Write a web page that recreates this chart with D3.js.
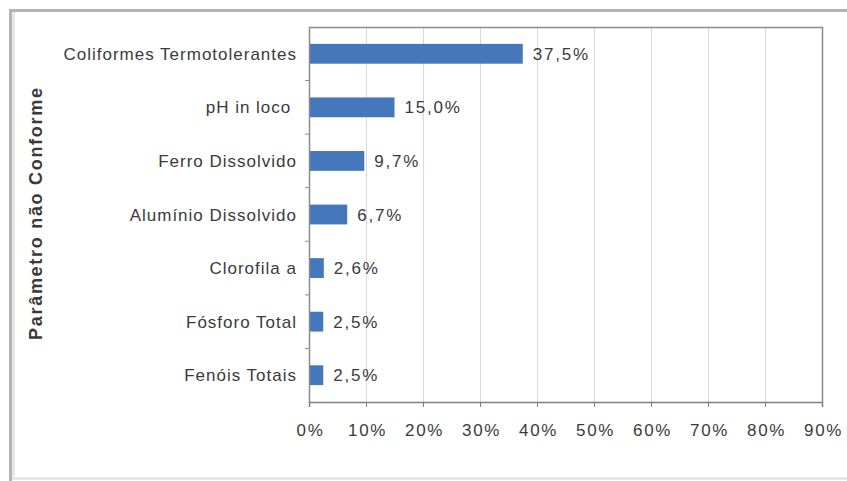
<!DOCTYPE html>
<html>
<head>
<meta charset="utf-8">
<script src="https://cdn.jsdelivr.net/npm/d3@7"></script>
<style>
  html, body { margin: 0; padding: 0; background: #ffffff; }
  svg { display: block; }
  text { font-family: "Liberation Sans", Arial, sans-serif; fill: #3a3a3a; white-space: pre; }
</style>
</head>
<body>
<svg id="chart" width="847" height="481"></svg>
<script>
// Parameters not in compliance, share of samples (%)
const categories = [
  "Coliformes Termotolerantes",
  "pH in loco ",
  "Ferro Dissolvido",
  "Alumínio Dissolvido",
  "Clorofila a",
  "Fósforo Total",
  "Fenóis Totais"
];
const values = [37.5, 15.0, 9.7, 6.7, 2.6, 2.5, 2.5];
const xTicks = [0, 10, 20, 30, 40, 50, 60, 70, 80, 90];
const yTitle = "Parâmetro não Conforme";

const svg = d3.select("#chart");
const W = 847, H = 481;
const plot = { left: 309, top: 27, right: 822, bottom: 402 };

// outer frame of the chart object
svg.append("rect")
  .attr("x", 10.5).attr("y", 10.5)
  .attr("width", W + 20).attr("height", H - 13)
  .attr("fill", "#ffffff")
  .attr("stroke", "#dcdcdc").attr("stroke-width", 2);
svg.append("path")
  .attr("d", `M10.5,${H}V10.5H${W}`)
  .attr("fill", "none")
  .attr("stroke", "#b4b4b4").attr("stroke-width", 3);
svg.append("line")
  .attr("x1", 13.5).attr("x2", 13.5).attr("y1", 12).attr("y2", H - 3)
  .attr("stroke", "#e8e8e8").attr("stroke-width", 3);

const x = d3.scaleLinear().domain([0, 90]).range([plot.left, plot.right]);
const y = d3.scaleBand().domain(categories).range([plot.top, plot.bottom])
  .paddingInner(0.63).paddingOuter(0.315);
const yBand = d3.scaleBand().domain(categories).range([plot.top, plot.bottom]);

// vertical gridlines
svg.append("g")
  .selectAll("line")
  .data(xTicks.filter(t => t > 0 && t < 90))
  .join("line")
  .attr("x1", d => Math.round(x(d)) + 0.5).attr("x2", d => Math.round(x(d)) + 0.5)
  .attr("y1", plot.top).attr("y2", plot.bottom)
  .attr("stroke", "#d9d9d9").attr("stroke-width", 1);

// plot border (top and right)
svg.append("path")
  .attr("d", `M${plot.left},${plot.top + 0.5}H${plot.right + 0.5}V${plot.bottom}`)
  .attr("fill", "none").attr("stroke", "#8c8c8c").attr("stroke-width", 1.5);

// bars
svg.append("g")
  .selectAll("rect")
  .data(values)
  .join("rect")
  .attr("x", x(0))
  .attr("y", (d, i) => y(categories[i]))
  .attr("width", d => x(d) - x(0))
  .attr("height", y.bandwidth())
  .attr("fill", "#4477bb");

// value labels
svg.append("g")
  .selectAll("text")
  .data(values)
  .join("text")
  .attr("x", d => x(d) + 10)
  .attr("y", (d, i) => y(categories[i]) + y.bandwidth() / 2)
  .attr("dy", "0.36em")
  .style("font-size", "17px")
  .style("letter-spacing", "1.8px")
  .text(d => d.toFixed(1).replace(".", ",") + "%");

// x axis
const xAxis = d3.axisBottom(x)
  .tickValues(xTicks)
  .tickFormat(d => d + "%")
  .tickSize(5)
  .tickPadding(17);
const gx = svg.append("g")
  .attr("transform", `translate(0,${plot.bottom})`)
  .call(xAxis);
gx.select(".domain").attr("stroke", "#7f7f7f").attr("stroke-width", 1.5);
gx.selectAll(".tick line").attr("stroke", "#7f7f7f");
gx.selectAll(".tick text")
  .style("font-size", "17px")
  .style("letter-spacing", "1.6px")
  .style("font-family", "'Liberation Sans', Arial, sans-serif")
  .attr("fill", "#3a3a3a")
  .attr("dx", "1px");

// y axis: category ticks sit between bands
const gy = svg.append("g");
gy.append("line")
  .attr("x1", plot.left + 0.5).attr("x2", plot.left + 0.5)
  .attr("y1", plot.top).attr("y2", plot.bottom)
  .attr("stroke", "#8c8c8c").attr("stroke-width", 1.5);
gy.selectAll("line.tk")
  .data(categories.slice(1))
  .join("line")
  .attr("class", "tk")
  .attr("x1", plot.left - 4).attr("x2", plot.left)
  .attr("y1", d => yBand(d)).attr("y2", d => yBand(d))
  .attr("stroke", "#8c8c8c");
gy.selectAll("text")
  .data(categories)
  .join("text")
  .attr("x", plot.left - 12)
  .attr("y", d => y(d) + y.bandwidth() / 2)
  .attr("dy", "0.36em")
  .attr("text-anchor", "end")
  .style("font-size", "17px")
  .style("letter-spacing", "1px")
  .text(d => d);

// y axis title
svg.append("text")
  .attr("transform", `translate(42,214) rotate(-90)`)
  .attr("text-anchor", "middle")
  .attr("textLength", 252)
  .attr("lengthAdjust", "spacing")
  .style("font-size", "18px")
  .style("font-weight", "bold")
  .attr("fill", "#262626")
  .text(yTitle);
</script>
</body>
</html>
